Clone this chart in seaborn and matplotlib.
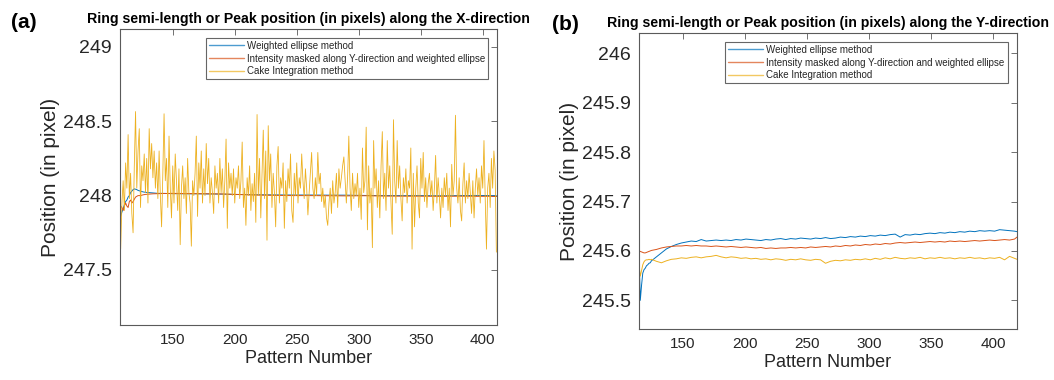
import numpy as np
import pandas as pd
import matplotlib
matplotlib.use("Agg")
import matplotlib.pyplot as plt
import seaborn as sns

# ---------------- data ----------------
labels = ["Weighted ellipse method",
          "Intensity masked along Y-direction and weighted ellipse",
          "Cake Integration method"]
colors = ["#0072BD", "#D95319", "#EDB120"]

# Panel (a) - X-direction
cake_a_x = list(range(108, 412))
cake_a = [
    247.64, 247.95, 248.10, 247.90, 248.22, 248.05, 248.41, 247.98, 248.15, 247.88,
    247.75, 248.20, 248.565, 248.05, 248.30, 248.45, 247.92, 248.20, 248.10, 248.28,
    248.02, 248.25, 247.95, 248.45, 248.18, 248.35, 248.12, 248.30, 248.05, 248.22,
    247.98, 248.30, 248.00, 247.79, 248.15, 248.55, 248.10, 248.25, 247.92, 248.40,
    248.05, 247.85, 248.20, 247.95, 248.28, 248.10, 247.90, 248.18, 247.67, 248.05,
    248.20, 247.98, 248.12, 247.88, 248.25, 248.02, 247.95, 247.66, 248.10, 248.00,
    248.15, 248.40, 247.86, 248.22, 248.05, 248.30, 247.95, 248.18, 248.00, 248.35,
    248.08, 248.25, 247.95, 248.12, 248.02, 247.88, 248.20, 248.05, 248.15, 247.95,
    248.25, 248.02, 248.18, 247.92, 248.10, 248.38, 247.78, 248.22, 248.05, 248.15,
    248.00, 248.18, 247.95, 248.12, 248.05, 248.20, 247.98, 248.10, 248.36, 247.92,
    248.05, 247.80, 248.12, 248.00, 248.20, 247.90, 248.08, 247.96, 248.15, 247.82,
    248.545, 248.00, 248.25, 247.85, 248.15, 248.44, 247.98, 248.30, 247.70, 248.47,
    248.10, 248.28, 247.92, 248.15, 248.02, 247.79, 248.20, 248.33, 247.95, 248.12,
    248.05, 248.22, 247.78, 248.10, 247.96, 248.18, 248.05, 248.28, 247.90, 247.82,
    248.15, 248.00, 248.22, 247.95, 248.12, 248.05, 248.28, 248.10, 247.98, 248.18,
    248.05, 247.87, 248.02, 248.15, 248.29, 248.05, 247.98, 248.12, 248.00, 248.29,
    248.08, 248.15, 247.96, 248.05, 247.92, 248.00, 247.85, 247.80, 247.95, 248.05,
    247.88, 248.10, 247.95, 248.02, 248.15, 247.92, 248.18, 248.05, 248.12, 248.20,
    248.26, 248.10, 247.95, 248.12, 248.40, 248.05, 247.90, 248.15, 247.98, 248.08,
    248.00, 248.15, 247.92, 248.05, 247.84, 248.32, 248.02, 248.10, 248.46, 247.77,
    248.20, 247.95, 248.05, 247.65, 248.37, 248.05, 248.18, 247.92, 248.10, 247.85,
    248.20, 248.43, 247.98, 248.15, 247.90, 248.37, 248.05, 248.20, 247.95, 247.74,
    248.51, 248.10, 247.95, 248.37, 248.05, 248.20, 247.98, 247.83, 248.12, 248.02,
    248.18, 247.95, 248.10, 248.05, 248.32, 247.64, 248.15, 247.79, 248.05, 248.20,
    247.95, 247.85, 248.25, 248.05, 248.29, 247.96, 248.12, 247.92, 248.08, 248.15,
    248.00, 248.10, 247.90, 248.05, 248.27, 247.95, 248.12, 248.00, 247.85, 248.05,
    247.92, 248.12, 248.00, 248.15, 247.90, 248.05, 247.79, 248.21, 248.00, 248.10,
    248.54, 248.05, 247.95, 248.12, 247.90, 247.83, 248.08, 248.22, 247.95, 248.10,
    247.98, 248.15, 248.02, 247.88, 248.10, 247.85, 248.05, 248.18, 248.00, 248.12,
    247.95, 248.20, 248.05, 248.37, 247.98, 247.64, 248.05, 248.15, 247.92, 248.25,
    248.05, 248.30, 248.17, 247.62,
]

weighted_a_x = [108, 109, 110, 111, 112, 113, 114, 115, 116, 117, 118, 119, 120, 121, 122,
                124, 126, 128, 131, 134, 138, 142, 146, 150,
                160, 170, 180, 190, 200,
                215, 230, 245, 260, 275, 290, 305, 320, 335, 350, 365, 380, 395, 411]
weighted_a = [247.86, 247.89, 247.91, 247.94, 247.96, 247.97, 247.99, 248.00, 248.02, 248.03,
              248.04, 248.045, 248.043, 248.04, 248.035,
              248.03, 248.025, 248.022, 248.02, 248.018, 248.015, 248.015, 248.014, 248.013,
              248.012, 248.012, 248.011, 248.01, 248.008,
              248.006, 248.005, 248.004, 248.004, 248.003, 248.003, 248.001, 248.0, 248.0,
              248.0, 247.999, 248.0, 248.001, 248.0]

masked_a_x = [108, 109, 110, 111, 112, 113, 114, 115, 116, 117, 118,
              120, 122, 124, 126, 128,
              131, 134, 138, 142, 150,
              160, 170, 180, 190, 200,
              215, 230, 245, 260, 275, 290, 305, 320, 335, 350, 365, 380, 395, 411]
masked_a = [247.93, 247.92, 247.90, 247.93, 247.95, 247.93, 247.92, 247.96, 247.97, 247.95, 247.96,
            247.99, 248.00, 248.0, 248.005, 248.008,
            248.01, 248.012, 248.013, 248.014, 248.015,
            248.014, 248.013, 248.012, 248.011, 248.008,
            248.004, 248.002, 248.0, 248.0, 247.999, 247.998, 247.999, 247.997, 247.996,
            247.996, 247.995, 247.996, 247.995, 247.995]

# Panel (b) - Y-direction
pattern_b = list(range(115, 126)) + list(range(129, 418, 4)) + [419]
weighted_b = [
    245.595, 245.500, 245.530, 245.555, 245.562, 245.565, 245.570, 245.572, 245.575, 245.576, 245.580,
    245.588, 245.596, 245.604, 245.609, 245.613, 245.616, 245.618, 245.620, 245.619, 245.623,
    245.620, 245.621, 245.622, 245.621, 245.622, 245.621, 245.623, 245.622, 245.624, 245.623,
    245.622, 245.621, 245.623, 245.622, 245.624, 245.625, 245.623, 245.625, 245.624, 245.626,
    245.625, 245.624, 245.626, 245.625, 245.627, 245.625, 245.626, 245.628, 245.627, 245.629,
    245.628, 245.630, 245.629, 245.631, 245.630, 245.632, 245.631, 245.633, 245.634, 245.628,
    245.633, 245.632, 245.634, 245.633, 245.635, 245.636, 245.635, 245.637, 245.636, 245.638,
    245.637, 245.639, 245.638, 245.640, 245.639, 245.641, 245.640, 245.641, 245.640, 245.643,
    245.642, 245.641, 245.640,
    245.639,
]
masked_b = [
    245.600, 245.599, 245.598, 245.597, 245.596, 245.596, 245.597, 245.598, 245.599, 245.600, 245.601,
    245.603, 245.606, 245.608, 245.609, 245.610, 245.610, 245.611, 245.610, 245.611, 245.610,
    245.610, 245.609, 245.610, 245.609, 245.608, 245.609, 245.608, 245.607, 245.608, 245.607,
    245.606, 245.607, 245.605, 245.606, 245.605, 245.606, 245.606, 245.607, 245.606, 245.607,
    245.606, 245.608, 245.607, 245.608, 245.609, 245.608, 245.610, 245.609, 245.611, 245.610,
    245.612, 245.611, 245.613, 245.612, 245.614, 245.613, 245.615, 245.614, 245.616, 245.617,
    245.616, 245.617, 245.618, 245.617, 245.618, 245.619, 245.618, 245.619, 245.618, 245.620,
    245.619, 245.620, 245.619, 245.620, 245.621, 245.620, 245.621, 245.622, 245.621, 245.622,
    245.623, 245.622, 245.624,
    245.628,
]
cake_b = [
    245.571, 245.549, 245.560, 245.572, 245.578, 245.581, 245.582, 245.582, 245.583, 245.582, 245.583,
    245.579, 245.576, 245.580, 245.583, 245.584, 245.586, 245.585, 245.587, 245.588, 245.586,
    245.588, 245.589, 245.591, 245.588, 245.586, 245.588, 245.587, 245.585, 245.586, 245.584,
    245.585, 245.583, 245.584, 245.582, 245.584, 245.583, 245.581, 245.583, 245.582, 245.584,
    245.582, 245.581, 245.583, 245.582, 245.575, 245.579, 245.581, 245.580, 245.582, 245.581,
    245.583, 245.582, 245.584, 245.582, 245.585, 245.583, 245.586, 245.584, 245.587, 245.585,
    245.584, 245.586, 245.585, 245.587, 245.584, 245.586, 245.585, 245.587, 245.585, 245.586,
    245.584, 245.586, 245.585, 245.587, 245.585, 245.586, 245.584, 245.586, 245.585, 245.587,
    245.582, 245.589, 245.585,
    245.583,
]

xticks = [150, 200, 250, 300, 350, 400]
yticks_a = [247.5, 248, 248.5, 249]
ytick_labels_a = ["247.5", "248", "248.5", "249"]
yticks_b = [245.5, 245.6, 245.7, 245.8, 245.9, 246]
ytick_labels_b = ["245.5", "245.6", "245.7", "245.8", "245.9", "246"]

# ---------------- style ----------------
sns.set_theme(style="white")
plt.rcParams["font.family"] = ["Liberation Sans", "DejaVu Sans"]
TXT = "#262626"
SPINE = "#5a5a5a"

fig = plt.figure(figsize=(10.54, 3.8), dpi=100)
ax1 = fig.add_axes([0.1139, 0.1447, 0.3574, 0.779])
ax2 = fig.add_axes([0.6063, 0.1342, 0.3586, 0.779])


def draw(ax, series, xlim, ylim, yticks, ylabels, title, leg_anchor):
    for (xs, ys, lab, col, lw) in series:
        sns.lineplot(x=xs, y=ys, ax=ax, color=col, linewidth=lw, label=lab,
                     estimator=None, sort=False)
    ax.set_xlim(*xlim)
    ax.set_ylim(*ylim)
    ax.set_xticks(xticks)
    ax.set_xticklabels([str(t) for t in xticks], fontsize=11, color=TXT)
    ax.set_yticks(yticks)
    ax.set_yticklabels(ylabels, fontsize=14, color=TXT)
    ax.tick_params(direction="in", length=4, width=0.6, color=SPINE,
                   top=True, right=True, pad=6)
    for s in ax.spines.values():
        s.set_color(SPINE)
        s.set_linewidth(0.8)
        s.set_visible(True)
    ax.set_xlabel("Pattern Number", fontsize=13, color=TXT, labelpad=2)
    ax.set_ylabel("Position (in pixel)", fontsize=15, color=TXT, labelpad=2)
    ax.set_title(title, fontsize=10.2, fontweight="bold", color="black", pad=4)
    leg = ax.legend(loc="upper right", bbox_to_anchor=leg_anchor, borderaxespad=0,
                    fontsize=7, frameon=True, fancybox=False, handlelength=3.6,
                    handletextpad=0.35, labelspacing=0.28, borderpad=0.3)
    leg.get_frame().set_edgecolor("#404040")
    leg.get_frame().set_linewidth(0.8)
    for t in leg.get_texts():
        t.set_color(TXT)
    for h in leg.get_lines():
        h.set_linewidth(1.0)
        h.set_alpha(0.7)


draw(ax1,
     [(weighted_a_x, weighted_a, labels[0], colors[0], 0.7),
      (masked_a_x, masked_a, labels[1], colors[1], 0.7),
      (cake_a_x, cake_a, labels[2], colors[2], 0.6)],
     (107.5, 411.3), (247.13, 249.12), yticks_a, ytick_labels_a,
     "Ring semi-length or Peak position (in pixels) along the X-direction",
     (0.977, 0.970))
draw(ax2,
     [(pattern_b, weighted_b, labels[0], colors[0], 0.7),
      (pattern_b, masked_b, labels[1], colors[1], 0.7),
      (pattern_b, cake_b, labels[2], colors[2], 0.7)],
     (115, 419), (245.442, 246.041), yticks_b, ytick_labels_b,
     "Ring semi-length or Peak position (in pixels) along the Y-direction",
     (0.975, 0.970))

fig.text(23.5 / 1054, 1 - 22 / 380, "(a)", fontsize=15, fontweight="bold",
         ha="center", va="center", color="black")
fig.text(565 / 1054, 1 - 24 / 380, "(b)", fontsize=15, fontweight="bold",
         ha="center", va="center", color="black")

fig.savefig("out.png", dpi=100)
